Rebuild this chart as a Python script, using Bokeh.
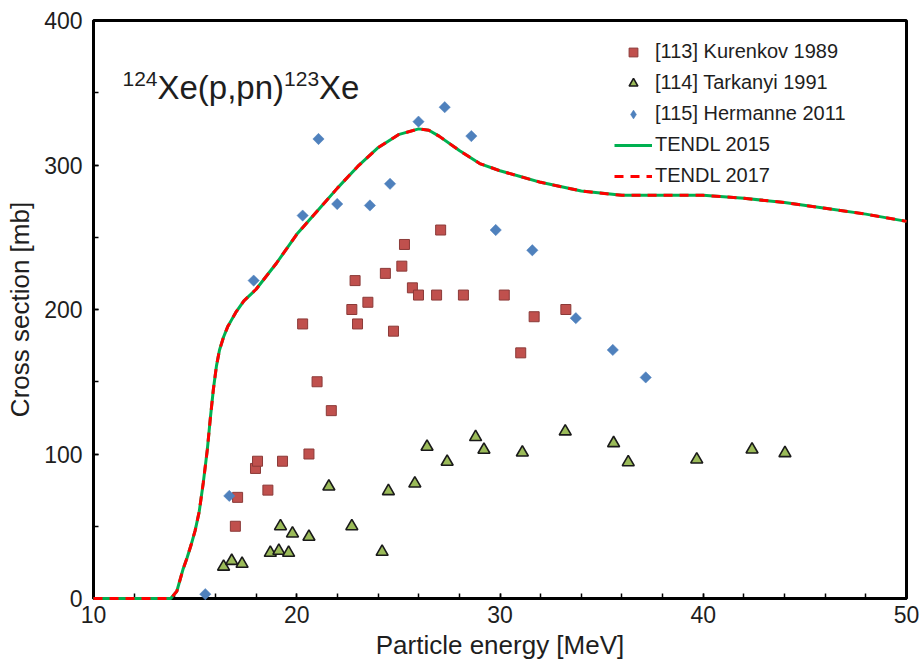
from bokeh.plotting import figure
from bokeh.models import Range1d, Legend, LegendItem, Label, SingleIntervalTicker
from bokeh.embed import file_html
from bokeh.resources import INLINE
import math

# ---------------- data ----------------
kurenkov_energy = [16.98, 17.09, 17.97, 18.07, 18.58, 19.3, 20.29, 20.6, 21.0, 21.7,
                   22.71, 22.87, 22.99, 23.5, 24.36, 24.76, 25.17, 25.3, 25.69, 25.99,
                   26.88, 27.08, 28.2, 30.21, 31.02, 31.68, 33.24]
kurenkov_xs = [50, 70, 90, 95, 75, 95, 190, 100, 150, 130,
               200, 220, 190, 205, 225, 185, 230, 245, 215, 210,
               210, 255, 210, 210, 170, 195, 200]

tarkanyi_energy = [16.4, 16.8, 17.31, 18.7, 19.12, 19.6, 19.2, 19.79, 20.6, 21.58,
                   22.71, 24.2, 24.51, 25.81, 26.41, 27.4, 28.8, 29.21, 31.1, 33.21,
                   35.59, 36.31, 39.68, 42.4, 44.02]
tarkanyi_xs = [22, 26, 24, 31.6, 33, 31.6, 50, 45, 42.7, 77.5,
               50, 32.3, 74.3, 79.6, 105, 94.6, 111.7, 102.9, 101, 115.6,
               107.5, 94.3, 96.2, 103.1, 100.6]

hermanne_energy = [15.5, 16.68, 17.88, 20.29, 21.07, 21.99, 23.6, 24.59, 25.99, 27.28,
                   28.59, 29.79, 31.59, 33.73, 35.55, 37.17]
hermanne_xs = [3, 71, 220, 265, 318, 273, 272, 287, 330, 340,
               320, 255, 241, 194, 172, 153]

tendl_energy = [10, 13.8, 14.1, 14.4, 14.6, 14.8, 15.0, 15.2, 15.4, 15.6, 15.75, 15.9,
                16.05, 16.2, 16.4, 16.6, 16.8, 17.0, 17.2, 17.4,
                18, 19, 20, 21, 22, 23, 24, 25, 26, 26.5, 27, 28, 29, 30, 31, 32,
                34, 36, 38, 40, 42, 44, 46, 48, 50]
tendl_2015 = [0, 0, 5, 20, 28, 37, 47, 60, 80, 103, 125, 145,
              161, 172, 181, 188, 193, 198, 202, 206,
              214, 232, 252, 268, 284, 299, 312, 321, 325, 324, 320, 310, 301, 296, 292, 288,
              282, 279, 279, 279, 277, 274, 270, 266, 261]
tendl_2017 = [0, 0, 5, 20, 28, 37, 47, 60, 80, 103, 125, 145,
              161, 172, 181, 188, 193, 198, 202, 206,
              214, 232, 252, 268, 284, 299, 312, 321, 325, 324, 320, 310, 301, 296, 292, 288,
              282, 279, 279, 279, 277, 274, 270, 266, 261]

x_ticks_interval = 10
y_ticks_interval = 100

FONT = "Liberation Sans"
TXT = "#1e1e1e"

p = figure(width=921, height=663, output_backend="svg", toolbar_location=None,
           x_range=Range1d(10, 50), y_range=Range1d(0, 400),
           min_border_left=93, min_border_right=15, min_border_top=20, min_border_bottom=65)

p.background_fill_color = "white"
p.border_fill_color = "white"
p.outline_line_color = "black"
p.outline_line_width = 3
p.xgrid.visible = False
p.ygrid.visible = False

p.xaxis.ticker = SingleIntervalTicker(interval=x_ticks_interval, num_minor_ticks=5)
p.yaxis.ticker = SingleIntervalTicker(interval=y_ticks_interval, num_minor_ticks=2)

for ax in (p.xaxis, p.yaxis):
    ax.axis_line_color = "black"
    ax.axis_line_width = 3
    ax.major_tick_in = 5
    ax.major_tick_out = 0
    ax.minor_tick_in = 5
    ax.minor_tick_out = 0
    ax.major_tick_line_color = "black"
    ax.minor_tick_line_color = "black"
    ax.major_tick_line_width = 1.5
    ax.minor_tick_line_width = 1.5
    ax.major_label_text_font = FONT
    ax.major_label_text_font_size = "23px"
    ax.major_label_text_color = TXT
    ax.axis_label_text_font = FONT
    ax.axis_label_text_font_size = "26px"
    ax.axis_label_text_font_style = "normal"
    ax.axis_label_text_color = TXT

p.xaxis.axis_label = "Particle energy [MeV]"
p.yaxis.axis_label = "Cross section [mb]"
p.xaxis.major_label_standoff = 7
p.yaxis.major_label_standoff = 11
p.xaxis.axis_label_standoff = 4
p.yaxis.axis_label_standoff = 6

r_k = p.scatter(kurenkov_energy, kurenkov_xs, marker="square", size=10,
                fill_color="#C0504D", line_color="#8B3A38", line_width=1, level="overlay")
r_t = p.scatter(tarkanyi_energy, tarkanyi_xs, marker="triangle", size=12,
                fill_color="#9BBB59", line_color="#1a1a1a", line_width=1.6, level="overlay")
r_h = p.scatter(hermanne_energy, hermanne_xs, marker="square", size=8, angle=math.pi / 4,
                fill_color="#4F81BD", line_color="#4F81BD", line_width=0.5, level="overlay")
r_15 = p.line(tendl_energy, tendl_2015, line_color="#00B050", line_width=3, level="overlay")
r_17 = p.line(tendl_energy, tendl_2017, line_color="#FF0000", line_width=3,
              line_dash="9 7", level="overlay")

# hidden twin of the Hermanne series, used only for its legend key (legend ignores angle)
r_h_key = p.scatter(hermanne_energy, hermanne_xs, marker="diamond", size=13,
                    fill_color="#4F81BD", line_color="#4F81BD", line_width=0.5, visible=False)

legend = Legend(items=[
    LegendItem(label="[113] Kurenkov 1989", renderers=[r_k]),
    LegendItem(label="[114] Tarkanyi 1991", renderers=[r_t]),
    LegendItem(label="[115] Hermanne 2011", renderers=[r_h_key]),
    LegendItem(label="TENDL 2015", renderers=[r_15]),
    LegendItem(label="TENDL 2017", renderers=[r_17]),
], location=(521, 411))
legend.background_fill_alpha = 0
legend.border_line_color = None
legend.inactive_fill_alpha = 0
legend.padding = 0
legend.margin = 0
legend.spacing = 8
legend.glyph_width = 38
legend.glyph_height = 22
legend.label_height = 22
legend.label_standoff = 3
legend.label_text_font = FONT
legend.label_text_font_size = "20px"
legend.label_text_color = TXT
legend.label_text_baseline = "middle"
p.add_layout(legend, "center")

# title with superscripts (frame-relative screen units)
title_parts = [("124", 29, 520, "21px"), ("Xe(p,pn)", 64, 511, "33px"),
               ("123", 190.6, 520, "21px"), ("Xe", 225.6, 511, "33px")]
for txt, sx, sy, fs in title_parts:
    p.add_layout(Label(x=sx, y=sy, x_units="screen", y_units="screen", text=txt,
                       text_font=FONT, text_font_size=fs, text_color=TXT,
                       text_baseline="alphabetic", text_align="left"))

open("out.html", "w").write(file_html(p, INLINE))
